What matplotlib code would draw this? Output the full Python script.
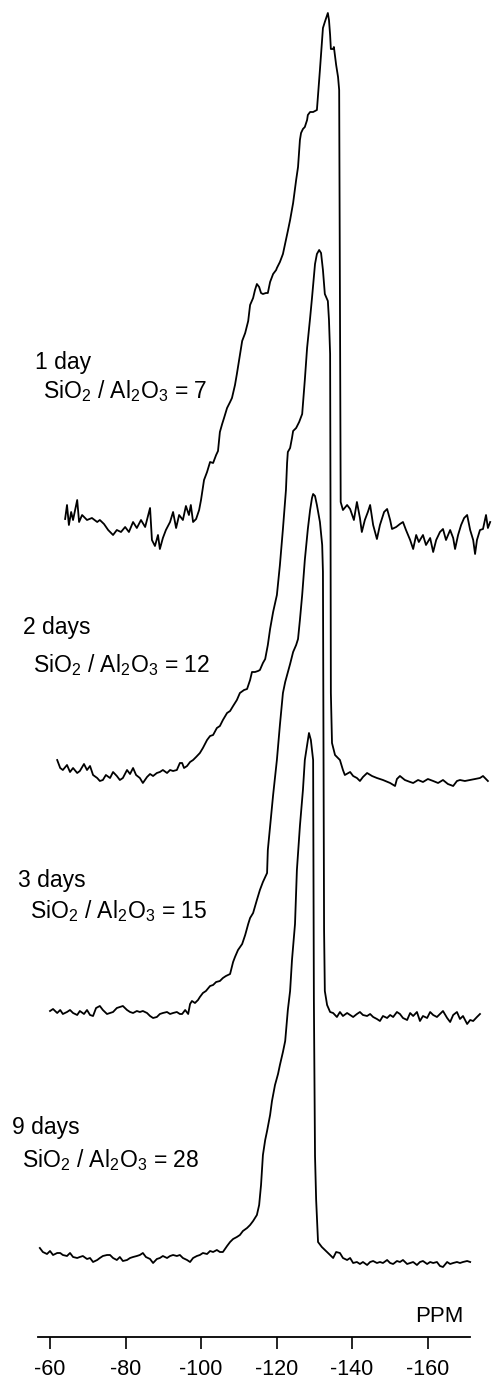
import matplotlib
matplotlib.use("Agg")
import matplotlib.pyplot as plt

plt.rcParams['font.family'] = ['Liberation Sans', 'DejaVu Sans']
plt.rcParams['mathtext.fontset'] = 'custom'
plt.rcParams['mathtext.rm'] = 'Liberation Sans'
plt.rcParams['mathtext.it'] = 'Liberation Sans:italic'

# 29Si NMR spectra, chemical shift in ppm, intensity in arbitrary units
ppm_1d = [-64.0, -64.5, -65.0, -65.6, -66.1, -67.2, -67.7, -68.5, -69.8, -71.1, -72.5, -73.2, -74.3, -75.4,
          -76.7, -77.7, -78.8, -79.9, -80.9, -82.0, -83.0, -84.1, -85.2, -86.5, -87.0, -87.8, -88.6, -89.1,
          -89.9, -90.7, -91.8, -92.6, -93.4, -94.2, -95.2, -96.0, -96.8, -97.3, -97.9, -98.7, -99.5, -100.0,
          -100.8, -101.6, -102.4, -103.2, -104.0, -104.5, -105.0, -105.6, -106.1, -106.9, -107.7, -108.2,
          -109.0, -109.5, -110.3, -110.9, -111.7, -112.5, -113.0, -113.8, -114.3, -114.8, -115.4, -115.9,
          -116.4, -117.2, -117.7, -118.3, -119.1, -119.9, -120.1, -120.9, -121.7, -122.5, -123.0, -123.6,
          -124.4, -125.2, -125.7, -126.2, -126.5, -127.0, -127.5, -128.1, -128.3, -128.9, -129.7, -130.7,
          -131.5, -132.3, -132.8, -133.6, -133.9, -134.2, -134.4, -135.0, -135.2, -135.8, -136.3, -136.6,
          -136.8, -137.0, -137.6, -138.7, -139.5, -140.5, -141.3, -142.1, -142.6, -143.4, -144.2, -144.8,
          -145.6, -146.6, -147.4, -148.5, -149.3, -150.1, -150.6, -151.7, -152.7, -153.5, -154.3, -155.4,
          -156.2, -157.0, -157.7, -158.8, -159.6, -160.7, -161.5, -162.3, -163.3, -164.1, -164.9, -166.0,
          -166.8, -167.3, -168.1, -168.9, -169.7, -170.5, -171.3, -172.1, -172.6, -173.1, -173.9, -174.7,
          -175.5, -176.0, -176.6]
int_1d = [3, 17, -3, 10, 2, 22, 0, 7, 2, 4, 0, 2, -2, -8,
          -13, -8, -10, -5, -10, 0, -6, 2, -5, 14, -18, -24, -13, -27,
          -16, -8, 0, 10, -6, 7, 2, 16, 7, 17, 0, 3, 12, 22,
          42, 50, 60, 59, 67, 71, 90, 98, 104, 114, 120, 124,
          137, 148, 167, 181, 189, 201, 217, 224, 232, 238, 235, 229,
          228, 229, 229, 240, 248, 252, 254, 260, 268, 282, 291, 302,
          319, 342, 355, 382, 389, 393, 395, 402, 407, 410, 410, 412,
          452, 494, 500, 509, 502, 487, 473, 473, 475, 457, 445, 432,
          222, 20, 12, 17, 13, 2, 20, 4, -10, 2, 10, 17,
          -3, -17, -3, 10, 13, 2, -7, -5, -2, 0, -8, -18,
          -27, -13, -20, -13, -23, -16, -30, -18, -10, -7, -18, -8,
          -16, -27, -13, -3, 4, 7, -8, -18, -32, -18, -8, -7,
          7, -6, 0]

ppm_2d = [-61.9, -62.7, -63.4, -64.5, -65.3, -66.1, -67.2, -67.9, -69.0, -69.8, -70.6, -71.4, -72.5, -73.2,
          -74.0, -74.8, -75.9, -76.7, -77.7, -78.5, -79.3, -80.4, -81.2, -82.0, -82.8, -83.8, -84.6, -85.7,
          -86.5, -87.3, -88.3, -89.1, -89.9, -91.0, -91.8, -92.6, -93.6, -94.4, -95.0, -95.5, -96.3, -97.1,
          -97.9, -98.7, -99.7, -100.5, -101.6, -102.4, -103.2, -104.2, -105.0, -105.8, -106.9, -107.7,
          -108.5, -109.5, -110.3, -111.4, -112.2, -113.0, -113.5, -114.3, -115.1, -115.6, -116.4, -117.0,
          -117.7, -118.3, -119.1, -120.1, -120.9, -121.7, -122.5, -122.8, -123.0, -123.6, -124.1, -124.4,
          -125.2, -126.0, -126.8, -127.5, -128.1, -128.9, -129.4, -130.2, -130.7, -131.3, -131.8, -132.3,
          -132.8, -133.6, -133.9, -134.2, -134.3, -134.4, -134.7, -135.5, -136.3, -136.8, -137.6, -138.1,
          -139.5, -140.3, -141.3, -142.1, -142.9, -144.0, -145.3, -146.6, -148.2, -150.1, -151.4, -151.9,
          -152.7, -154.0, -155.4, -156.2, -157.5, -158.8, -160.1, -161.5, -162.8, -164.1, -165.4, -166.8,
          -167.8, -168.6, -169.9, -171.3, -172.6, -173.9, -174.7, -175.5, -176.0]
int_2d = [15, 7, 5, 10, 3, 7, 2, 4, 11, 5, 9, 0, -3, -6,
          -5, 0, -3, 3, -1, -5, -3, 5, 1, 7, 0, -3, -8, -2,
          1, -1, 2, 3, 5, 2, 5, 4, 5, 12, 12, 7, 9, 13,
          15, 18, 22, 27, 35, 39, 40, 47, 49, 55, 62, 64,
          69, 75, 82, 85, 86, 95, 103, 103, 104, 105, 112, 116,
          130, 146, 163, 180, 210, 246, 285, 312, 323, 327, 337, 344,
          347, 353, 361, 395, 427, 457, 477, 511, 521, 525, 522, 505,
          481, 474, 455, 421, 275, 82, 32, 20, 17, 15, 5, 0,
          3, -1, -3, -6, -2, 2, -1, -3, -5, -8, -11, -4,
          -1, -5, -7, -8, -5, -7, -4, -6, -8, -5, -9, -11,
          -6, -5, -6, -5, -4, -3, -1, -4, -6]

ppm_3d = [-60.0, -60.8, -61.9, -62.7, -63.4, -64.5, -65.3, -66.1, -67.2, -67.9, -69.0, -69.8, -70.6, -71.4,
          -72.2, -73.2, -74.0, -75.1, -75.9, -76.7, -77.7, -78.5, -79.3, -80.4, -81.2, -82.0, -83.0, -83.8,
          -84.6, -85.7, -86.5, -87.3, -88.3, -89.1, -89.9, -91.0, -91.8, -92.6, -93.6, -94.4, -95.0, -95.8,
          -96.6, -97.1, -97.6, -98.4, -99.2, -99.7, -100.5, -101.3, -102.4, -103.2, -104.0, -105.0, -105.8,
          -106.6, -107.7, -108.5, -109.0, -109.8, -110.9, -111.7, -112.5, -113.0, -113.8, -114.8, -115.6,
          -116.4, -117.5, -117.7, -118.3, -119.1, -120.1, -120.9, -121.7, -122.3, -122.8, -123.6, -124.4,
          -125.2, -125.7, -126.2, -126.8, -127.5, -128.3, -128.9, -129.4, -129.7, -130.2, -130.7, -131.5,
          -132.1, -132.3, -132.5, -132.6, -132.8, -133.4, -134.2, -135.0, -136.0, -136.8, -137.6, -138.7,
          -139.5, -140.3, -141.3, -142.1, -142.9, -144.0, -144.8, -145.6, -146.6, -147.4, -148.2, -149.3,
          -150.1, -150.9, -151.9, -152.7, -153.5, -154.6, -155.4, -156.2, -157.2, -158.0, -158.8, -159.9,
          -160.7, -161.5, -162.5, -163.3, -164.1, -165.2, -166.0, -166.8, -167.8, -168.6, -169.4, -170.5,
          -171.3, -172.1, -173.1, -173.9]
int_3d = [1, 3, -1, 2, -2, 0, 2, -1, -3, 1, -2, 2, -3, -4,
          4, 6, 2, -2, -1, 0, 4, 5, 6, 2, 0, -1, 1, 0,
          1, -1, -4, -6, -5, -2, -1, 0, -2, -1, 0, -2, -2, 2,
          -2, 8, 11, 9, 12, 15, 19, 21, 26, 27, 30, 31, 34,
          36, 38, 50, 55, 62, 68, 77, 88, 94, 99, 112, 122,
          130, 139, 162, 186, 217, 252, 287, 319, 330, 337, 348, 360,
          367, 373, 392, 417, 452, 483, 502, 514, 518, 516, 507, 490,
          467, 440, 212, 82, 21, 7, 0, -1, -5, 0, -4, -1,
          -3, -5, -2, 0, -3, -4, -2, -5, -7, -9, -4, -6,
          -3, -5, 0, -2, -6, -8, -1, -4, 0, -9, -4, -6,
          0, -3, -5, -2, 1, -6, -10, -3, 0, -7, -4, -12,
          -8, -9, -5, -2]

ppm_9d = [-57.3, -58.1, -59.2, -60.0, -60.8, -61.9, -62.7, -63.4, -64.5, -65.3, -66.1, -67.2, -67.9, -68.7,
          -69.8, -70.6, -71.4, -72.5, -73.2, -74.0, -75.1, -75.9, -76.7, -77.7, -78.5, -79.3, -80.4, -81.2,
          -82.0, -83.0, -83.8, -84.6, -85.4, -86.5, -87.3, -88.3, -89.1, -89.9, -91.0, -91.8, -92.6, -93.6,
          -94.4, -95.2, -96.3, -97.1, -97.9, -98.9, -99.7, -100.5, -101.6, -102.4, -103.2, -104.2, -105.0,
          -105.8, -106.9, -107.7, -108.5, -109.5, -110.3, -111.1, -112.2, -113.0, -113.8, -114.8, -115.4,
          -115.9, -116.4, -117.0, -117.5, -118.3, -118.8, -119.6, -120.4, -120.9, -121.7, -122.3, -123.0,
          -123.6, -124.1, -124.9, -125.4, -126.2, -127.0, -127.5, -128.1, -128.6, -129.1, -129.7, -129.8,
          -129.9, -130.2, -130.5, -131.0, -132.0, -133.4, -134.2, -135.0, -135.8, -136.8, -137.6, -138.7,
          -139.5, -140.3, -141.3, -142.1, -142.9, -144.0, -144.8, -145.6, -146.6, -147.4, -148.2, -149.3,
          -150.1, -150.9, -151.9, -152.7, -153.5, -154.6, -155.4, -156.2, -157.2, -158.0, -158.8, -159.9,
          -160.7, -161.5, -162.5, -163.3, -164.1, -165.2, -166.0, -166.8, -167.8, -168.6, -169.4, -170.5,
          -171.3]
int_9d = [9, 5, 3, 6, 2, 4, 4, 2, 1, 4, 0, -1, 0, 1,
          -2, -1, -5, -3, -1, 1, 2, 2, -1, -3, 0, -4, -3, -1,
          0, 1, 2, 4, 0, -2, -6, -2, -1, 1, -1, 1, 2, 1,
          2, -1, -3, -5, -1, 1, 2, 4, 3, 6, 5, 7, 5,
          5, 11, 15, 18, 20, 22, 26, 29, 32, 36, 42, 52,
          72, 102, 117, 126, 142, 156, 172, 183, 192, 205, 216, 247,
          266, 297, 333, 387, 431, 467, 497, 512, 524, 517, 497, 357,
          257, 101, 57, 15, 10, 5, 2, -1, 5, 4, -1, -3,
          -1, -6, -5, -7, -5, -8, -5, -4, -6, -5, -6, -3,
          -6, -7, -4, -5, -3, -7, -6, -5, -8, -5, -4, -7,
          -5, -6, -5, -9, -10, -5, -7, -6, -5, -6, -5, -4,
          -5]

spectra = [ppm_1d, ppm_2d, ppm_3d, ppm_9d]
intensities = [int_1d, int_2d, int_3d, int_9d]
offsets = [815, 562, 325, 80]
days = ['1 day', '2 days', '3 days', '9 days']
ratios = ['7', '12', '15', '28']
tick_values = [-60, -80, -100, -120, -140, -160]
tick_labels = ['-60', '-80', '-100', '-120', '-140', '-160']

W, H = 493, 1387
fig = plt.figure(figsize=(W / 100, H / 100), dpi=100)
axis_y = 1337
ax = fig.add_axes([0, (H - axis_y) / H, 1, axis_y / H])

for ppm, inten, off in zip(spectra, intensities, offsets):
    ax.plot(ppm, [off + v for v in inten], color='black', lw=1.3, solid_joinstyle='round')

ax.set_xlim(-46.75, -177.35)
ax.set_ylim(0, axis_y)
for s in ['left', 'right', 'top']:
    ax.spines[s].set_visible(False)
ax.spines['bottom'].set_bounds(-56.8, -171.2)
ax.spines['bottom'].set_linewidth(1.3)
ax.set_yticks([])
ax.set_xticks(tick_values)
ax.set_xticklabels(tick_labels)
ax.tick_params(axis='x', direction='out', length=8.5, width=1.2, pad=7, labelsize=15.5)

# text labels (pixel positions: left x, baseline y)
day_pos = [(35, 369), (23, 634), (18, 887), (12, 1134)]
ratio_pos = [(43, 398), (33, 672), (30, 918), (22, 1167)]
for d, r, (dx, dy), (rx, ry) in zip(days, ratios, day_pos, ratio_pos):
    fig.text(dx / W, 1 - dy / H, d, fontsize=16.5, ha='left', va='baseline')
    fig.text(rx / W, 1 - ry / H, r'SiO$_2$ / Al$_2$O$_3$ = ' + r,
             fontsize=16.5, ha='left', va='baseline')

fig.text(415 / W, 1 - 1322 / H, 'PPM', fontsize=16, ha='left', va='baseline')

fig.savefig('out.png', dpi=100)
